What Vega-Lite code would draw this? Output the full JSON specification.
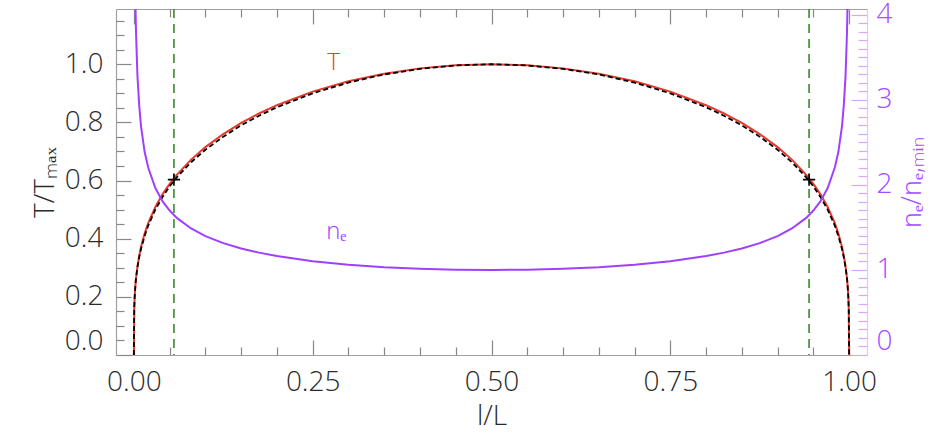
{
  "$schema": "https://vega.github.io/schema/vega-lite/v6.json",
  "width": 751,
  "height": 346,
  "autosize": {"type": "none"},
  "padding": {"left": 116, "top": 9, "right": 65, "bottom": 88},
  "background": "white",
  "config": {
    "view": {"stroke": null},
    "font": "Open Sans",
    "axis": {
      "labelFont": "Open Sans", "labelFontWeight": 300, "labelFontSize": 28, "labelColor": "#2b2b2b",
      "titleFont": "Open Sans", "titleFontWeight": 300, "titleFontSize": 28, "titleColor": "#2b2b2b",
      "domainColor": "#a0a0a0", "tickColor": "#888888", "grid": false, "domainWidth": 1.2, "tickWidth": 1.2
    }
  },
  "datasets": {
    "curve": [
      {"s": 0, "T": 0, "Tb": 0},
      {"s": 0.0005, "T": 0.158, "Tb": 0.158, "ne": 6.33},
      {"s": 0.001, "T": 0.193, "Tb": 0.193, "ne": 5.19},
      {"s": 0.0015, "T": 0.216, "Tb": 0.216, "ne": 4.62},
      {"s": 0.002, "T": 0.235, "Tb": 0.235, "ne": 4.26},
      {"s": 0.0025, "T": 0.25, "Tb": 0.25, "ne": 3.99},
      {"s": 0.003, "T": 0.264, "Tb": 0.264, "ne": 3.79},
      {"s": 0.005, "T": 0.305, "Tb": 0.302, "ne": 3.28},
      {"s": 0.0075, "T": 0.342, "Tb": 0.337, "ne": 2.93},
      {"s": 0.01, "T": 0.372, "Tb": 0.365, "ne": 2.69},
      {"s": 0.015, "T": 0.418, "Tb": 0.409, "ne": 2.39},
      {"s": 0.02, "T": 0.4535, "Tb": 0.445, "ne": 2.205},
      {"s": 0.03, "T": 0.509, "Tb": 0.5, "ne": 1.964},
      {"s": 0.04, "T": 0.5525, "Tb": 0.543, "ne": 1.81},
      {"s": 0.05, "T": 0.5886, "Tb": 0.58, "ne": 1.699},
      {"s": 0.06, "T": 0.6198, "Tb": 0.611, "ne": 1.613},
      {"s": 0.08, "T": 0.672, "Tb": 0.663, "ne": 1.488},
      {"s": 0.1, "T": 0.715, "Tb": 0.706, "ne": 1.399},
      {"s": 0.125, "T": 0.76, "Tb": 0.751, "ne": 1.316},
      {"s": 0.15, "T": 0.798, "Tb": 0.79, "ne": 1.253},
      {"s": 0.175, "T": 0.8307, "Tb": 0.823, "ne": 1.204},
      {"s": 0.2, "T": 0.8591, "Tb": 0.852, "ne": 1.164},
      {"s": 0.25, "T": 0.9058, "Tb": 0.9, "ne": 1.104},
      {"s": 0.3, "T": 0.9412, "Tb": 0.937, "ne": 1.0625},
      {"s": 0.35, "T": 0.9676, "Tb": 0.965, "ne": 1.0335},
      {"s": 0.4, "T": 0.9858, "Tb": 0.984, "ne": 1.0144},
      {"s": 0.45, "T": 0.9965, "Tb": 0.996, "ne": 1.0035},
      {"s": 0.5, "T": 1.0, "Tb": 1.0, "ne": 1.0},
      {"s": 0.55, "T": 0.9965, "Tb": 0.996, "ne": 1.0035},
      {"s": 0.6, "T": 0.9858, "Tb": 0.984, "ne": 1.0144},
      {"s": 0.65, "T": 0.9676, "Tb": 0.965, "ne": 1.0335},
      {"s": 0.7, "T": 0.9412, "Tb": 0.937, "ne": 1.0625},
      {"s": 0.75, "T": 0.9058, "Tb": 0.9, "ne": 1.104},
      {"s": 0.8, "T": 0.8591, "Tb": 0.852, "ne": 1.164},
      {"s": 0.825, "T": 0.8307, "Tb": 0.823, "ne": 1.204},
      {"s": 0.85, "T": 0.798, "Tb": 0.79, "ne": 1.253},
      {"s": 0.875, "T": 0.76, "Tb": 0.751, "ne": 1.316},
      {"s": 0.9, "T": 0.715, "Tb": 0.706, "ne": 1.399},
      {"s": 0.92, "T": 0.672, "Tb": 0.663, "ne": 1.488},
      {"s": 0.94, "T": 0.6198, "Tb": 0.611, "ne": 1.613},
      {"s": 0.95, "T": 0.5886, "Tb": 0.58, "ne": 1.699},
      {"s": 0.96, "T": 0.5525, "Tb": 0.543, "ne": 1.81},
      {"s": 0.97, "T": 0.509, "Tb": 0.5, "ne": 1.964},
      {"s": 0.98, "T": 0.4535, "Tb": 0.445, "ne": 2.205},
      {"s": 0.985, "T": 0.418, "Tb": 0.409, "ne": 2.39},
      {"s": 0.99, "T": 0.372, "Tb": 0.365, "ne": 2.69},
      {"s": 0.9925, "T": 0.342, "Tb": 0.337, "ne": 2.93},
      {"s": 0.995, "T": 0.305, "Tb": 0.302, "ne": 3.28},
      {"s": 0.997, "T": 0.264, "Tb": 0.264, "ne": 3.79},
      {"s": 0.9975, "T": 0.25, "Tb": 0.25, "ne": 3.99},
      {"s": 0.998, "T": 0.235, "Tb": 0.235, "ne": 4.26},
      {"s": 0.9985, "T": 0.216, "Tb": 0.216, "ne": 4.62},
      {"s": 0.999, "T": 0.193, "Tb": 0.193, "ne": 5.19},
      {"s": 0.9995, "T": 0.158, "Tb": 0.158, "ne": 6.33},
      {"s": 1, "T": 0, "Tb": 0}
    ],
    "vlines": [{"s": 0.056}, {"s": 0.944}],
    "crosses": [{"s": 0.056, "T": 0.603}, {"s": 0.944, "T": 0.603}],
    "tlabel": [{"s": 0.279, "T": 1.005, "label": "T"}],
    "nlabel": [{"s": 0.283, "ne": 1.45, "label": "nₑ"}]
  },
  "resolve": {"scale": {"y": "independent"}, "axis": {"x": "independent", "y": "independent"}},
  "layer": [
    {
      "data": {"name": "vlines"},
      "mark": {"type": "rule", "color": "#3a8a2a", "strokeWidth": 1.6, "strokeDash": [9, 6]},
      "encoding": {
        "x": {"field": "s", "type": "quantitative", "scale": {"domain": [-0.025, 1.025], "nice": false, "zero": false},
          "axis": {"orient": "bottom", "values": [0, 0.25, 0.5, 0.75, 1], "format": ".2f", "tickSize": -15, "labelPadding": 28, "title": "l/L", "titlePadding": 6}}
      }
    },
    {
      "data": {"name": "curve"},
      "mark": {"type": "line", "color": "#e8392c", "strokeWidth": 2, "clip": true},
      "encoding": {
        "x": {"field": "s", "type": "quantitative", "scale": {"domain": [-0.025, 1.025], "nice": false, "zero": false},
          "axis": {"orient": "bottom", "values": [0.05,0.1,0.15,0.2,0.3,0.35,0.4,0.45,0.55,0.6,0.65,0.7,0.8,0.85,0.9,0.95], "tickSize": -8, "labels": false, "title": null, "domain": false}},
        "y": {"field": "T", "type": "quantitative", "scale": {"domain": [0, 1.19], "nice": false},
          "axis": {"orient": "left", "values": [0, 0.2, 0.4, 0.6, 0.8, 1.0], "format": ".1f", "tickSize": -15, "labelPadding": 28, "labelFlush": true, "title": "T/Tₘₐₓ", "titlePadding": 5}}
      }
    },
    {
      "data": {"name": "curve"},
      "mark": {"type": "line", "color": "black", "strokeWidth": 1.8, "strokeDash": [5, 3], "clip": true},
      "encoding": {
        "x": {"field": "s", "type": "quantitative", "scale": {"domain": [-0.025, 1.025], "nice": false, "zero": false},
          "axis": {"orient": "top", "values": [0, 0.25, 0.5, 0.75, 1], "tickSize": -15, "labels": false, "title": null}},
        "y": {"field": "Tb", "type": "quantitative", "scale": {"domain": [0, 1.19], "nice": false},
          "axis": {"orient": "left", "values": [0.05,0.1,0.15,0.25,0.3,0.35,0.45,0.5,0.55,0.65,0.7,0.75,0.85,0.9,0.95,1.05,1.1,1.15], "tickSize": -8, "labels": false, "title": null, "domain": false}}
      }
    },
    {
      "data": {"name": "crosses"},
      "mark": {"type": "point", "shape": "M-1,0H1M0,-1V1", "size": 150, "filled": false, "stroke": "black", "strokeWidth": 1.6, "opacity": 1},
      "encoding": {
        "x": {"field": "s", "type": "quantitative", "scale": {"domain": [-0.025, 1.025], "nice": false, "zero": false},
          "axis": {"orient": "top", "values": [0.05,0.1,0.15,0.2,0.3,0.35,0.4,0.45,0.55,0.6,0.65,0.7,0.8,0.85,0.9,0.95], "tickSize": -8, "labels": false, "title": null, "domain": false}},
        "y": {"field": "T", "type": "quantitative", "scale": {"domain": [0, 1.19], "nice": false}, "axis": null}
      }
    },
    {
      "data": {"name": "tlabel"},
      "mark": {"type": "text", "color": "#e8392c", "fontSize": 24, "font": "Open Sans", "fontWeight": 300},
      "encoding": {
        "x": {"field": "s", "type": "quantitative", "scale": {"domain": [-0.025, 1.025], "nice": false, "zero": false}, "axis": null},
        "y": {"field": "T", "type": "quantitative", "scale": {"domain": [0, 1.19], "nice": false}, "axis": null},
        "text": {"field": "label"}
      }
    },
    {
      "data": {"name": "curve"},
      "mark": {"type": "line", "color": "#a040ff", "strokeWidth": 2, "clip": true},
      "encoding": {
        "x": {"field": "s", "type": "quantitative", "scale": {"domain": [-0.025, 1.025], "nice": false, "zero": false}, "axis": null},
        "y": {"field": "ne", "type": "quantitative", "scale": {"domain": [0, 4.07], "nice": false},
          "axis": {"orient": "right", "values": [0, 1, 2, 3, 4], "format": "d", "tickSize": -16, "labelPadding": 25, "labelFlush": true,
            "domainColor": "#e2c6ff", "tickColor": "#d6a8ff", "labelColor": "#a64dff", "titleColor": "#a64dff",
            "title": "nₑ/nₑ,ₘᵢₙ", "titleFontSize": 27, "titleAngle": 270, "titleBaseline": "top", "titlePadding": 8}}
      }
    },
    {
      "data": {"name": "nlabel"},
      "mark": {"type": "text", "color": "#a040ff", "fontSize": 24, "font": "Open Sans", "fontWeight": 300},
      "encoding": {
        "x": {"field": "s", "type": "quantitative", "scale": {"domain": [-0.025, 1.025], "nice": false, "zero": false}, "axis": null},
        "y": {"field": "ne", "type": "quantitative", "scale": {"domain": [0, 4.07], "nice": false},
          "axis": {"orient": "right", "values": [0.1,0.2,0.3,0.4,0.5,0.6,0.7,0.8,0.9,1.1,1.2,1.3,1.4,1.5,1.6,1.7,1.8,1.9,2.1,2.2,2.3,2.4,2.5,2.6,2.7,2.8,2.9,3.1,3.2,3.3,3.4,3.5,3.6,3.7,3.8,3.9], "tickSize": -9, "labels": false, "title": null, "domain": false, "tickColor": "#d6a8ff"}},
        "text": {"field": "label"}
      }
    }
  ]
}
